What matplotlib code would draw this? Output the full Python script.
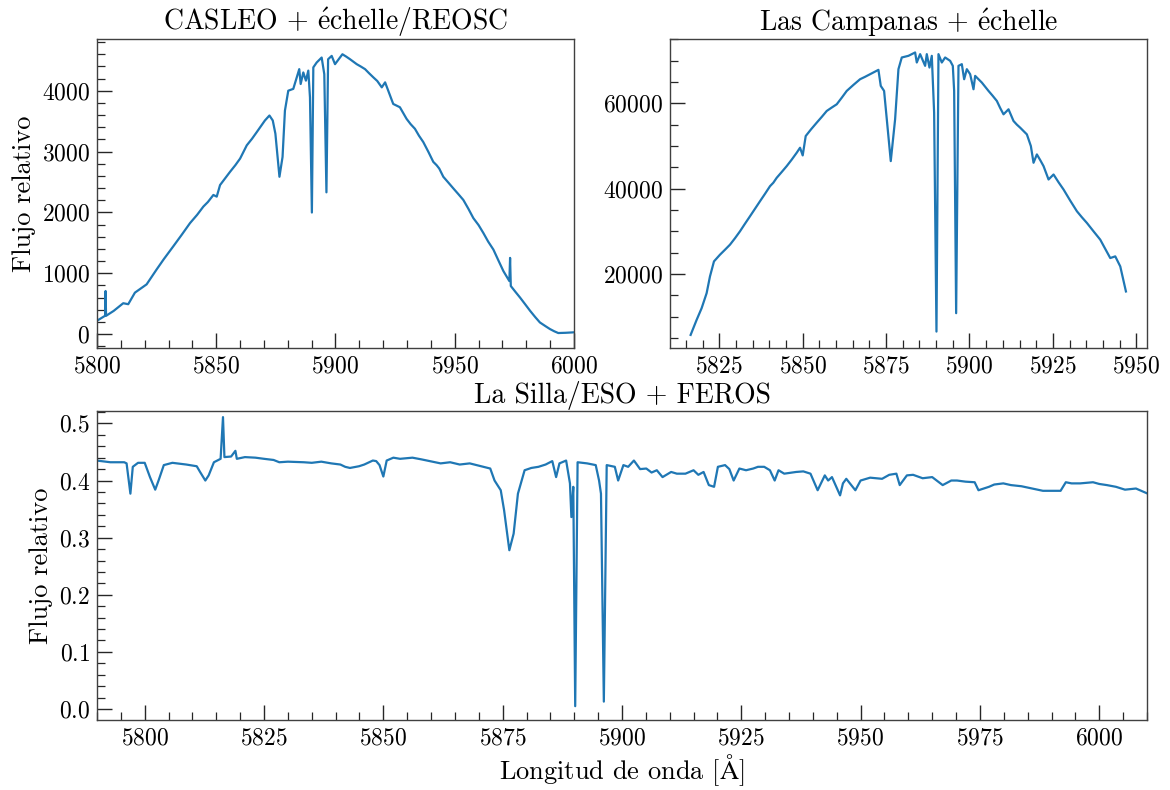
import numpy as np
import matplotlib
matplotlib.use("Agg")
import matplotlib.pyplot as plt
from matplotlib.ticker import MultipleLocator

# === Spectra ===
# CASLEO + echelle/REOSC
casleo_wl = [5800.0, 5803.4, 5803.6, 5803.8, 5807.0, 5811.0, 5813.1, 5815.9, 5820.8,
             5825.0, 5828.0, 5832.0, 5835.5, 5839.0, 5842.0, 5844.6, 5846.5, 5848.8,
             5850.2, 5851.6, 5855.8, 5858.0, 5860.0, 5862.8, 5865.0, 5867.0, 5870.4,
             5872.3, 5873.7, 5874.8, 5876.5, 5877.8, 5878.8, 5880.2, 5882.3, 5884.8,
             5885.4, 5886.5, 5887.6, 5888.6, 5889.3, 5890.1, 5890.7, 5892.1, 5894.2,
             5895.3, 5896.2, 5896.9, 5898.4, 5899.8, 5902.9, 5904.5, 5906.1, 5908.9,
             5910.5, 5912.4, 5914.0, 5915.9, 5917.5, 5919.4, 5920.8, 5922.9, 5924.2,
             5927.0, 5929.8, 5931.5, 5933.3, 5935.0, 5936.8, 5939.0, 5941.0, 5942.4,
             5943.5, 5945.2, 5947.3, 5949.4, 5951.5, 5953.6, 5955.7, 5957.8, 5960.0,
             5962.0, 5964.0, 5966.2, 5968.3, 5970.4, 5972.9, 5973.2, 5973.5, 5975.5,
             5977.4, 5979.5, 5981.6, 5983.7, 5985.7, 5988.0, 5989.9, 5991.7, 5993.4,
             5996.5, 5999.7]
casleo_flux = [218, 300, 707, 299, 380, 506, 490, 680, 816,
               1061, 1230, 1442, 1630, 1823, 1960, 2095, 2170, 2286,
               2258, 2449, 2667, 2775, 2884, 3102, 3210, 3320, 3510,
               3592, 3510, 3293, 2585, 2911, 3673, 4000, 4030, 4354,
               4110, 4300, 4165, 4330, 3890, 1997, 4383, 4463, 4545,
               4272, 2329, 4517, 4572, 4436, 4599, 4560, 4517, 4436,
               4400, 4354, 4290, 4218, 4160, 4055, 4137, 3918, 3782,
               3728, 3537, 3450, 3374, 3260, 3156, 2990, 2830, 2775,
               2720, 2585, 2490, 2394, 2300, 2204, 2060, 1905, 1790,
               1660, 1520, 1388, 1210, 1034, 870, 1251, 789, 690,
               598, 490, 381, 280, 190, 130, 82, 45, 16,
               20, 27]

# Las Campanas + echelle
lco_wl = [5816.4, 5818.2, 5819.7, 5821.2, 5822.2, 5823.4, 5825.2, 5826.7, 5828.2,
          5829.7, 5831.2, 5832.7, 5834.2, 5835.7, 5837.2, 5838.7, 5840.2, 5841.2,
          5842.2, 5843.7, 5845.2, 5846.7, 5848.2, 5849.2, 5850.0, 5850.9, 5852.5,
          5854.2, 5855.7, 5857.2, 5858.7, 5860.2, 5861.7, 5863.2, 5865.2, 5867.2,
          5868.7, 5870.2, 5872.7, 5873.4, 5874.4, 5876.4, 5877.7, 5878.7, 5879.7,
          5881.7, 5883.7, 5884.2, 5885.2, 5886.7, 5887.2, 5888.0, 5888.7, 5889.4,
          5890.1, 5890.7, 5891.7, 5892.7, 5894.2, 5895.0, 5895.4, 5896.0, 5896.7,
          5897.7, 5898.4, 5899.2, 5900.2, 5901.2, 5901.7, 5903.7, 5905.7, 5906.9,
          5908.2, 5909.2, 5910.2, 5911.7, 5913.2, 5914.2, 5915.2, 5916.2, 5917.2,
          5918.4, 5919.2, 5920.2, 5921.2, 5922.2, 5923.7, 5925.2, 5926.7, 5928.2,
          5930.2, 5932.2, 5933.7, 5935.2, 5937.2, 5939.2, 5940.7, 5942.2, 5943.7,
          5945.2, 5946.9]
lco_flux = [5752, 9275, 12014, 15537, 19451, 22974, 24539, 25700, 26888,
            28400, 30019, 31800, 33541, 35300, 37064, 38800, 40587, 41400,
            42544, 43900, 45284, 46800, 48415, 49589, 47788, 52328, 53900,
            55460, 56800, 58200, 59000, 59765, 61300, 62896, 64300, 65636,
            66200, 66810, 67828, 64070, 62896, 46457, 56243, 67985, 70725,
            71116, 71899, 69550, 71507, 68768, 71507, 68376, 71116, 57808,
            6535, 71507, 69550, 70725, 69942, 68768, 62896, 10841, 68768,
            69159, 65636, 67985, 66810, 63288, 66419, 64853, 62896, 61800,
            60548, 58900, 57417, 58591, 55851, 55000, 54286, 53500, 52720,
            49980, 46066, 48023, 46700, 45284, 42152, 43326, 41500, 39803,
            37200, 34715, 33300, 31976, 30000, 28062, 25900, 23756, 24148,
            21800, 15929]

# La Silla/ESO + FEROS
feros_wl = [5789.9, 5792.8, 5795.7, 5796.2, 5797.0, 5797.5, 5798.6, 5800.0, 5801.1,
            5802.2, 5802.9, 5804.0, 5805.8, 5808.7, 5810.9, 5811.6, 5812.7, 5813.4,
            5814.5, 5815.9, 5816.4, 5816.7, 5818.1, 5819.0, 5819.3, 5821.0, 5823.2,
            5825.0, 5827.0, 5828.2, 5830.0, 5833.3, 5835.0, 5837.0, 5839.1, 5841.0,
            5842.0, 5843.0, 5844.9, 5846.0, 5847.8, 5848.5, 5849.2, 5850.0, 5850.7,
            5852.1, 5853.5, 5856.1, 5858.0, 5860.8, 5862.0, 5864.0, 5866.0, 5868.1,
            5870.0, 5872.4, 5873.3, 5874.6, 5875.3, 5876.4, 5877.3, 5878.2, 5879.6,
            5881.0, 5882.5, 5884.0, 5885.4, 5886.2, 5886.9, 5888.3, 5889.1, 5889.4,
            5889.8, 5890.2, 5890.7, 5892.7, 5894.5, 5895.2, 5895.6, 5896.2, 5896.8,
            5898.5, 5899.2, 5900.3, 5901.3, 5902.5, 5903.8, 5905.1, 5906.2, 5907.3,
            5908.5, 5910.3, 5911.5, 5913.3, 5915.0, 5916.0, 5917.1, 5918.2, 5919.3,
            5920.1, 5921.6, 5922.5, 5923.4, 5924.6, 5926.0, 5927.5, 5928.5, 5929.8,
            5931.0, 5932.0, 5932.8, 5934.0, 5936.5, 5938.0, 5939.5, 5941.0, 5942.5,
            5943.2, 5944.0, 5945.7, 5946.3, 5947.0, 5948.9, 5950.0, 5952.0, 5954.5,
            5956.0, 5957.5, 5958.2, 5959.7, 5961.0, 5963.0, 5965.0, 5967.2, 5969.0,
            5970.2, 5972.0, 5973.9, 5974.7, 5976.9, 5978.0, 5979.9, 5981.5, 5983.7,
            5986.0, 5988.2, 5990.0, 5991.9, 5993.0, 5994.2, 5996.0, 5998.7, 6000.0,
            6001.6, 6003.5, 6005.4, 6007.7, 6009.9]
feros_flux = [0.435, 0.432, 0.432, 0.430, 0.377, 0.424, 0.431, 0.431, 0.406,
              0.384, 0.400, 0.427, 0.431, 0.428, 0.425, 0.415, 0.400, 0.409,
              0.432, 0.438, 0.511, 0.441, 0.442, 0.452, 0.438, 0.441, 0.440,
              0.438, 0.436, 0.432, 0.433, 0.432, 0.431, 0.433, 0.430, 0.428,
              0.424, 0.422, 0.425, 0.428, 0.435, 0.434, 0.427, 0.407, 0.435,
              0.440, 0.438, 0.440, 0.437, 0.432, 0.430, 0.432, 0.428, 0.430,
              0.426, 0.421, 0.400, 0.383, 0.348, 0.278, 0.307, 0.377, 0.418,
              0.422, 0.424, 0.428, 0.434, 0.406, 0.430, 0.435, 0.395, 0.336,
              0.389, 0.005, 0.432, 0.430, 0.427, 0.400, 0.377, 0.013, 0.427,
              0.424, 0.400, 0.427, 0.424, 0.435, 0.420, 0.421, 0.414, 0.418,
              0.406, 0.415, 0.412, 0.412, 0.418, 0.410, 0.415, 0.392, 0.389,
              0.424, 0.427, 0.420, 0.400, 0.421, 0.418, 0.421, 0.424, 0.424,
              0.418, 0.400, 0.418, 0.412, 0.415, 0.416, 0.412, 0.383, 0.409,
              0.400, 0.406, 0.374, 0.395, 0.403, 0.383, 0.400, 0.405, 0.403,
              0.410, 0.412, 0.392, 0.409, 0.410, 0.404, 0.406, 0.392, 0.400,
              0.400, 0.398, 0.397, 0.383, 0.389, 0.393, 0.395, 0.392, 0.390,
              0.386, 0.382, 0.382, 0.382, 0.397, 0.395, 0.395, 0.397, 0.394,
              0.392, 0.389, 0.384, 0.386, 0.378]

# === Style: LaTeX-like serif ===
plt.rcParams['font.family'] = 'serif'
plt.rcParams['font.serif'] = ['cmr10']
plt.rcParams['mathtext.fontset'] = 'cm'
plt.rcParams['axes.formatter.use_mathtext'] = True
plt.rcParams['axes.unicode_minus'] = False

fig = plt.figure(figsize=(11.7, 7.9), dpi=100)
ax1 = fig.add_axes([0.0829, 0.5595, 0.4077, 0.391])
ax2 = fig.add_axes([0.5726, 0.5595, 0.4077, 0.391])
ax3 = fig.add_axes([0.0829, 0.0886, 0.8974, 0.391])

color = '#1f77b4'
ax1.plot(casleo_wl, casleo_flux, color=color, lw=1.6)
ax2.plot(lco_wl, lco_flux, color=color, lw=1.6)
ax3.plot(feros_wl, feros_flux, color=color, lw=1.6)

ax1.set_xlim(5800, 6000)
ax1.set_ylim(-230, 4848)
ax1.xaxis.set_major_locator(MultipleLocator(50))
ax1.xaxis.set_minor_locator(MultipleLocator(10))
ax1.yaxis.set_major_locator(MultipleLocator(1000))
ax1.yaxis.set_minor_locator(MultipleLocator(200))
ax1.set_title(r'CASLEO + $\mathrm{\acute{e}}$chelle/REOSC', fontsize=20, pad=6)
ax1.set_ylabel('Flujo relativo', fontsize=19)

ax2.set_xlim(5810.2, 5953.2)
ax2.set_ylim(2690, 75030)
ax2.xaxis.set_major_locator(MultipleLocator(25))
ax2.xaxis.set_minor_locator(MultipleLocator(5))
ax2.yaxis.set_major_locator(MultipleLocator(20000))
ax2.yaxis.set_minor_locator(MultipleLocator(5000))
ax2.set_title(r'Las Campanas + $\mathrm{\acute{e}}$chelle', fontsize=20, pad=6)

ax3.set_xlim(5790, 6010)
ax3.set_ylim(-0.0192, 0.5215)
ax3.xaxis.set_major_locator(MultipleLocator(25))
ax3.xaxis.set_minor_locator(MultipleLocator(5))
ax3.yaxis.set_major_locator(MultipleLocator(0.1))
ax3.yaxis.set_minor_locator(MultipleLocator(0.02))
ax3.set_title('La Silla/ESO + FEROS', fontsize=20, pad=6)
ax3.set_ylabel('Flujo relativo', fontsize=19)
ax3.set_xlabel(r'Longitud de onda [$\mathrm{\AA}$]', fontsize=19, labelpad=2)

for ax in (ax1, ax2, ax3):
    ax.tick_params(which='both', direction='in', top=False, right=False,
                   labelsize=17, pad=5, color='0.15')
    ax.tick_params(which='major', length=11, width=1.0)
    ax.tick_params(which='minor', length=6, width=0.9)
    for sp in ax.spines.values():
        sp.set_color('0.25')
        sp.set_linewidth(1.0)

fig.savefig('out.png', dpi=100)
